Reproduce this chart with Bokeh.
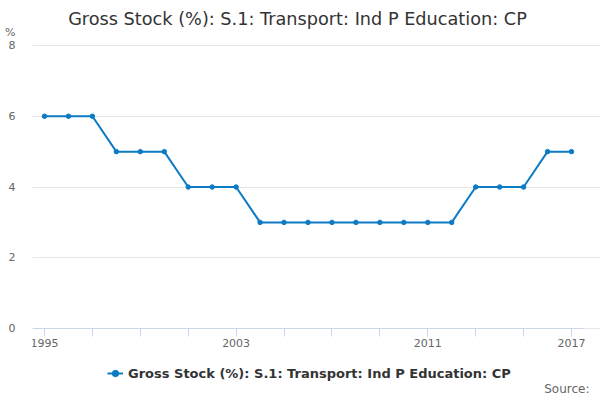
import numpy as np

from bokeh.plotting import figure
from bokeh.models import (ColumnDataSource, FixedTicker, Legend, LegendItem,
                          Label)
from bokeh.embed import file_html
from bokeh.resources import INLINE

years = list(range(1995, 2018))
values = [6, 6, 6, 5, 5, 5, 4, 4, 4, 3, 3, 3, 3, 3, 3, 3, 3, 3, 4, 4, 4, 5, 5]
x_ticks = list(range(1995, 2018, 2))
x_labels = [1995, 2003, 2011, 2017]
y_ticks = [0, 2, 4, 6, 8]
unit_pos = 8.37  # where the "%" unit sits on the y axis

title_text = "Gross Stock (%): S.1: Transport: Ind P Education: CP"
series_name = "Gross Stock (%): S.1: Transport: Ind P Education: CP"
source_text = "Source:"
line_color = "#0d7bc4"
font = "DejaVu Sans"

source = ColumnDataSource(data={'x': years, 'y': values})

# frame covers the whole height (and the right edge) so the title, legend
# and source note can sit inside it without being clipped
p = figure(width=600, height=400, output_backend="svg", toolbar_location=None,
           title=None, x_range=(1994.5, 2018.21), y_range=(-2.035, 9.272),
           min_border_left=32, min_border_right=0, min_border_top=0,
           min_border_bottom=0)
p.outline_line_color = None
p.background_fill_color = "white"
p.border_fill_color = "white"

line = p.line(x='x', y='y', source=source, line_color=line_color, line_width=2)
dots = p.scatter(x='x', y='y', source=source, size=4.5, fill_color=line_color,
                 line_color=line_color)

# x axis, pinned at y=0
xa = p.xaxis[0]
xa.fixed_location = 0
xa.bounds = (1994.5, 2017.5)
xa.ticker = FixedTicker(ticks=x_ticks)
xa.major_label_overrides = {v: (str(v) if v in x_labels else "") for v in x_ticks}
xa.axis_line_color = "#ccd6eb"
xa.major_tick_line_color = "#ccd6eb"
xa.major_tick_in = 0
xa.major_tick_out = 8
xa.minor_tick_line_color = None
xa.major_label_text_font = font
xa.major_label_text_font_size = "11px"
xa.major_label_text_color = "#666666"
xa.major_label_standoff = 2

# y axis, with the unit as an extra label on top
ya = p.yaxis[0]
ya.ticker = FixedTicker(ticks=y_ticks + [unit_pos])
ya.major_label_overrides = {unit_pos: "%"}
ya.axis_line_color = None
ya.major_tick_line_color = None
ya.minor_tick_line_color = None
ya.major_label_text_font = font
ya.major_label_text_font_size = "11px"
ya.major_label_text_color = "#666666"
ya.major_label_standoff = 11

p.xgrid.grid_line_color = None
p.ygrid.grid_line_color = "#e6e6e6"
p.ygrid.ticker = FixedTicker(ticks=y_ticks)
p.ygrid.bounds = (0, 8)

p.add_layout(Label(x=265, y=382, x_units="screen", y_units="screen",
                   text=title_text, text_align="center",
                   text_baseline="middle", text_font=font,
                   text_font_size="17.7px", text_color="#333333"))

legend = Legend(items=[LegendItem(label=series_name, renderers=[line, dots])],
                orientation="horizontal", location=(75, 17),
                label_text_font=font, label_text_font_size="13px",
                label_text_font_style="bold", label_text_color="#333333",
                border_line_color=None, background_fill_alpha=0,
                glyph_width=16, glyph_height=20, label_height=20,
                label_standoff=5, padding=0, margin=0)
p.add_layout(legend)

p.add_layout(Label(x=557, y=5, x_units="screen", y_units="screen",
                   text=source_text, text_align="right",
                   text_baseline="bottom", text_font=font,
                   text_font_size="12px", text_color="#666666"))

open("out.html", "w").write(file_html(p, INLINE))
